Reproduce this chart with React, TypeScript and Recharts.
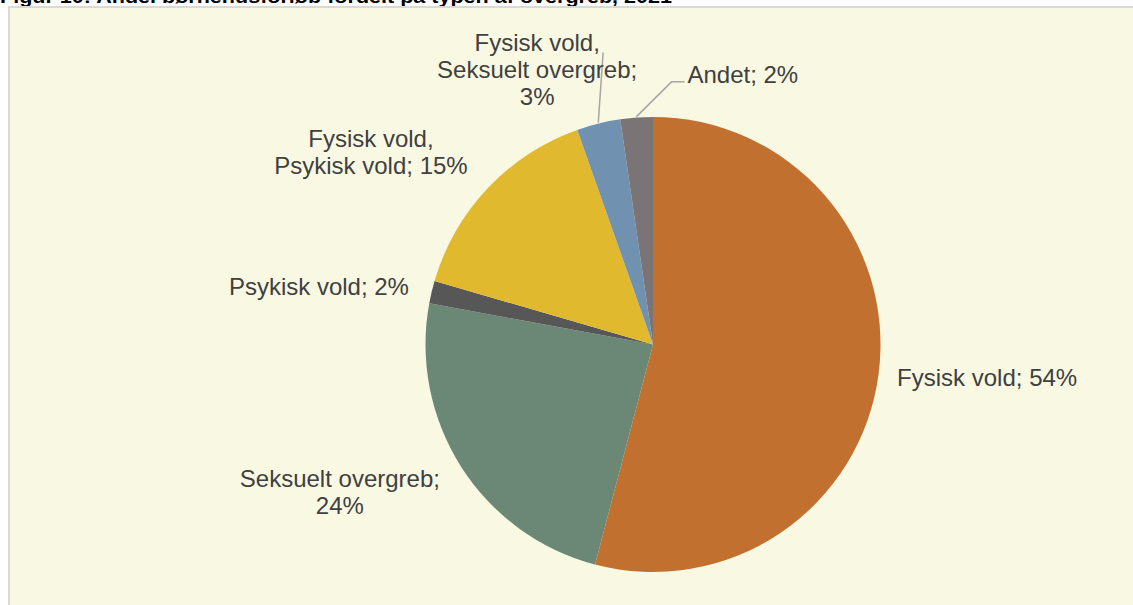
import React from "react";
import { PieChart, Pie, Cell } from "recharts";

const categories = [
  "Fysisk vold",
  "Seksuelt overgreb",
  "Psykisk vold",
  "Fysisk vold, Psykisk vold",
  "Fysisk vold, Seksuelt overgreb",
  "Andet",
];
const values = [54.1, 23.8, 1.6, 15.1, 3.1, 2.3];
const percentLabels = ["54%", "24%", "2%", "15%", "3%", "2%"];
const labelLines = [
  ["Fysisk vold; 54%"],
  ["Seksuelt overgreb;", "24%"],
  ["Psykisk vold; 2%"],
  ["Fysisk vold,", "Psykisk vold; 15%"],
  ["Fysisk vold,", "Seksuelt overgreb;", "3%"],
  ["Andet; 2%"],
];
const colors = ["#C1702F", "#6B8877", "#575757", "#E1B92F", "#7091AF", "#7B7476"];
const title = "Figur 10: Andel børnehusforløb fordelt på typen af overgreb, 2021";

const data = categories.map((name, i) => ({ name, value: values[i], pct: percentLabels[i] }));

// label placement: radius factor along slice mid angle, plus nudges; leader points relative to text origin
type LabelCfg = { k: number; dx: number; dy: number; anchor: "start" | "middle"; leader?: [number, number][] };
const labelCfg: LabelCfg[] = [
  { k: 1.45, dx: 7, dy: -1, anchor: "middle" },
  { k: 1.5, dx: -25, dy: -40, anchor: "middle" },
  { k: 1.5, dx: -2, dy: 29, anchor: "middle" },
  { k: 1.5, dx: -34, dy: 37, anchor: "middle" },
  { k: 1.3, dx: -45, dy: -6, anchor: "middle", leader: [[66, 1]] },
  { k: 1.25, dx: 55, dy: 22, anchor: "start", leader: [[-16, -1], [-3, -1]] },
];

const RAD = Math.PI / 180;
const FONT = "'Liberation Sans', Arial, sans-serif";
const LINE_H = 27;

const renderLabel = (props: any) => {
  const { cx, cy, midAngle, outerRadius, index } = props;
  const cfg = labelCfg[index];
  const cos = Math.cos(-midAngle * RAD);
  const sin = Math.sin(-midAngle * RAD);
  const r = outerRadius * cfg.k;
  const x = cx + r * cos + cfg.dx;
  const y = cy + r * sin + cfg.dy;
  const lines = labelLines[index];
  let leader = null;
  if (cfg.leader) {
    const sx = cx + (outerRadius + 1) * cos;
    const sy = cy + (outerRadius + 1) * sin;
    const pts = [[sx, sy], ...cfg.leader.map(([a, b]) => [x + a, y + b])];
    leader = (
      <polyline
        points={pts.map((p) => p.join(",")).join(" ")}
        fill="none"
        stroke="#A6A6A6"
        strokeWidth={1.5}
      />
    );
  }
  return (
    <g key={`lbl-${index}`}>
      {leader}
      <text x={x} y={y} fill="#404040" fontSize={24} fontFamily={FONT} textAnchor={cfg.anchor}>
        {lines.map((ln, i) => (
          <tspan key={i} x={x} y={y + i * LINE_H}>
            {ln}
          </tspan>
        ))}
      </text>
    </g>
  );
};

export default function App() {
  return (
    <div
      style={{
        position: "absolute",
        left: 0,
        top: 0,
        width: 1133,
        height: 605,
        overflow: "hidden",
        background: "#ffffff",
      }}
    >
      <svg width={1133} height={20} style={{ position: "absolute", left: 0, top: 0 }}>
        <text
          x={0}
          y={3}
          fontFamily={FONT}
          fontWeight="bold"
          fontSize={18}
          fill="#000"
          textLength={672}
          lengthAdjust="spacingAndGlyphs"
        >
          {title}
        </text>
      </svg>
      <div
        style={{
          position: "absolute",
          left: 8,
          top: 6,
          width: 1150,
          height: 620,
          border: "2px solid #D9D9D9",
          background: "#F9F8E2",
        }}
      />
      <div style={{ position: "absolute", left: 0, top: 0 }}>
        <PieChart width={1133} height={605} margin={{ top: 0, right: 0, bottom: 0, left: 0 }}>
          <Pie
            data={data}
            dataKey="value"
            nameKey="name"
            cx={653}
            cy={344.5}
            outerRadius={227.5}
            startAngle={90}
            endAngle={-270}
            stroke="none"
            label={renderLabel}
            labelLine={false}
            isAnimationActive={false}
          >
            {data.map((d, i) => (
              <Cell key={d.name} fill={colors[i]} />
            ))}
          </Pie>
        </PieChart>
      </div>
    </div>
  );
}
